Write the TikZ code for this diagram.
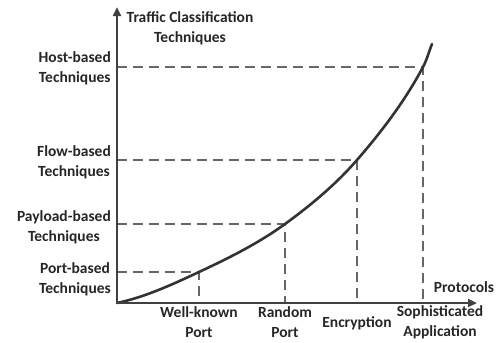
\documentclass[tikz,border=0pt]{standalone}
\usepackage{fontspec}
\setmainfont{Carlito}
\usetikzlibrary{arrows.meta}

\begin{document}
\begin{tikzpicture}[
    x=1pt, y=-1pt,
    % Define the style for the two axes
    axisStyle/.style={
        draw=black!75,
        line width=2.6pt,
        -{Triangle[length=9pt, width=8pt]}
    },
    % Define the style for the dashed guide lines
    guideStyle/.style={
        draw=black!60,
        line width=1.8pt,
        dash pattern=on 10pt off 6pt
    },
    % Define the style for the growth curve
    curveStyle/.style={
        draw=black!80,
        line width=2.6pt,
        line cap=round
    },
    % Define the style for the labels
    tLabel/.style={
        font=\bfseries\fontsize{15.5}{20}\selectfont,
        text=black!85,
        align=center,
        inner sep=0pt
    }
]

    \useasboundingbox (0,0) rectangle (499,343);

    % --- COORDINATE DEFINITIONS ---
    % Origin and axis ends
    \coordinate (O) at (117,303);
    \coordinate (yEnd) at (117,7);
    \coordinate (xEnd) at (477,303);
    \coordinate (cTop) at (432,44);

    % Points on the curve, with their feet on both axes
    \foreach \name/\px/\py in {Port/199/272, Payload/285/224, Flow/357/160, Host/423/67} {
        \coordinate (c\name) at (\px,\py);
        \coordinate (y\name) at (117,\py);
        \coordinate (x\name) at (\px,303);
    }

    % --- GUIDES ---
    \foreach \name in {Port, Payload, Flow, Host} {
        \draw[guideStyle] (y\name) -- (c\name) -- (x\name);
    }

    % --- CURVE ---
    \draw[curveStyle] (O)
        .. controls (145.4,297) and (172.7,284.3) .. (cPort)
        .. controls (228.9,258) and (258.3,243.4) .. (cPayload)
        .. controls (310.9,205.2) and (336,184.2) .. (cFlow)
        .. controls (381.9,131.3) and (405.2,100.6) .. (cHost)
        .. controls (427,59.5) and (428.8,51.9) .. (cTop);

    % --- AXES ---
    \draw[axisStyle] (O) -- (yEnd);
    \draw[axisStyle] (O) -- (xEnd);

    % --- NODES ---
    % Axis titles
    \node[tLabel] (yTitle) at (190,28) {Traffic Classification\\Techniques};
    \node[tLabel] (xTitle) at (464,287) {Protocols};

    % Techniques on the vertical axis
    \node[tLabel, anchor=east] (lHost) at (111,68) {Host-based\\Techniques};
    \node[tLabel, anchor=east] (lFlow) at (111,162) {Flow-based\\Techniques};
    \node[tLabel, anchor=east] (lPayload) at (111,227) {Payload-based\\Techniques};
    \node[tLabel, anchor=east] (lPort) at (111,279) {Port-based\\Techniques};

    % Protocols on the horizontal axis
    \node[tLabel] (lWell) at (199,322) {Well-known\\Port};
    \node[tLabel] (lRandom) at (285,322) {Random\\Port};
    \node[tLabel] (lEnc) at (357,323) {Encryption};
    \node[tLabel] (lSoph) at (440,322) {Sophisticated\\Application};

\end{tikzpicture}
\end{document}
